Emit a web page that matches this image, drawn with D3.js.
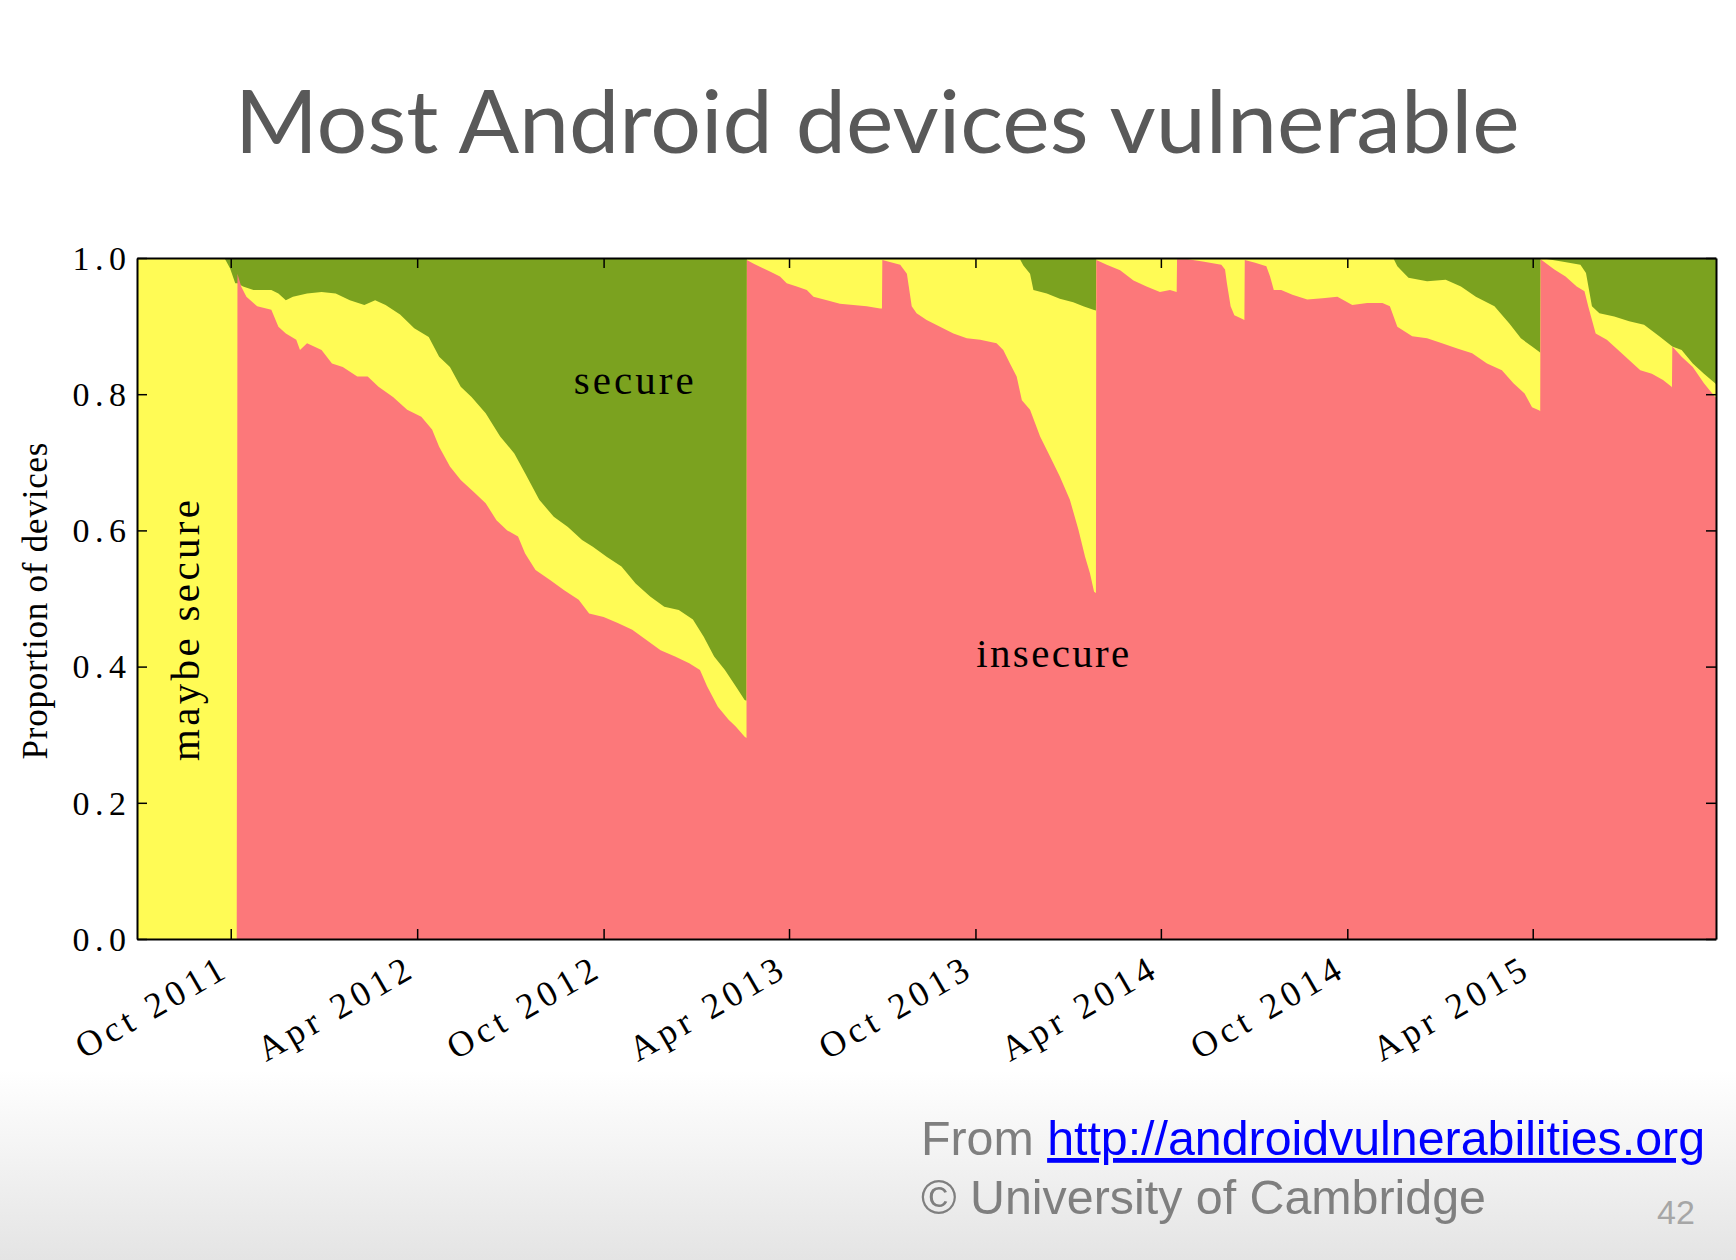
<!DOCTYPE html>
<html><head><meta charset="utf-8">
<script src="https://cdn.jsdelivr.net/npm/d3@7"></script>
<style>html,body{margin:0;padding:0;background:#fff;}svg{display:block}</style>
</head><body>
<svg id="chart" width="1736" height="1260"></svg>
<script>
// ---------- DATA ----------
// time is given as decimal years (2011.5 = 1 Jul 2011, 365.25 days per year)
const xTickLabels = ["Oct 2011","Apr 2012","Oct 2012","Apr 2013","Oct 2013","Apr 2014","Oct 2014","Apr 2015"];
const xTickDates  = ["2011-10-01","2012-04-01","2012-10-01","2013-04-01","2013-10-01","2014-04-01","2014-10-01","2015-04-01"];
const yTicks = [0.0, 0.2, 0.4, 0.6, 0.8, 1.0];
const timeRange = [2011.5, 2015.7434];

// proportion of devices that are insecure (bottom layer)
const insecure = [
[2011.500,0],[2011.768,0],
[2011.770,0.977],[2011.780,0.958],[2011.794,0.943],[2011.823,0.929],[2011.861,0.924],[2011.880,0.899],[2011.900,0.889],[2011.928,0.880],[2011.938,0.865],[2011.957,0.875],[2011.996,0.865],[2012.024,0.845],[2012.053,0.840],[2012.092,0.826],[2012.120,0.826],[2012.149,0.811],[2012.188,0.796],[2012.226,0.777],[2012.264,0.767],[2012.293,0.748],[2012.312,0.723],[2012.341,0.694],[2012.370,0.674],[2012.408,0.655],[2012.437,0.640],[2012.466,0.615],[2012.495,0.600],[2012.524,0.591],[2012.543,0.566],[2012.571,0.542],[2012.610,0.527],[2012.648,0.512],[2012.687,0.498],[2012.715,0.478],[2012.754,0.473],[2012.792,0.464],[2012.831,0.454],[2012.869,0.439],[2012.907,0.424],[2012.946,0.415],[2012.984,0.405],[2013.013,0.395],[2013.032,0.371],[2013.061,0.341],[2013.090,0.322],[2013.109,0.312],[2013.133,0.297],[2013.138,0.295],
[2013.139,0.997],[2013.156,0.992],[2013.174,0.987],[2013.201,0.980],[2013.228,0.973],[2013.246,0.963],[2013.273,0.958],[2013.300,0.953],[2013.318,0.943],[2013.354,0.938],[2013.389,0.933],[2013.425,0.931],[2013.461,0.929],[2013.497,0.926],[2013.502,0.926],
[2013.503,0.997],[2013.551,0.990],[2013.569,0.977],[2013.582,0.929],[2013.595,0.919],[2013.622,0.909],[2013.658,0.899],[2013.694,0.889],[2013.730,0.882],[2013.766,0.880],[2013.810,0.875],[2013.828,0.865],[2013.846,0.845],[2013.864,0.826],[2013.878,0.791],[2013.900,0.777],[2013.927,0.738],[2013.954,0.708],[2013.980,0.679],[2014.007,0.645],[2014.030,0.601],[2014.048,0.561],[2014.061,0.537],[2014.072,0.510],[2014.077,0.508],
[2014.078,0.997],[2014.106,0.990],[2014.142,0.982],[2014.178,0.967],[2014.213,0.958],[2014.249,0.950],[2014.276,0.953],[2014.294,0.950],
[2014.295,0.998],[2014.324,0.998],[2014.364,0.995],[2014.414,0.990],[2014.424,0.983],[2014.429,0.963],[2014.439,0.929],[2014.449,0.916],[2014.465,0.912],[2014.476,0.909],
[2014.477,0.997],[2014.505,0.993],[2014.535,0.988],[2014.545,0.973],[2014.555,0.953],[2014.575,0.953],[2014.605,0.946],[2014.645,0.939],[2014.686,0.941],[2014.726,0.943],[2014.766,0.931],[2014.806,0.934],[2014.847,0.934],[2014.867,0.929],[2014.887,0.899],[2014.927,0.885],[2014.967,0.882],[2015.007,0.875],[2015.048,0.867],[2015.088,0.860],[2015.128,0.845],[2015.168,0.835],[2015.199,0.816],[2015.229,0.801],[2015.249,0.781],[2015.269,0.776],[2015.271,0.775],
[2015.272,0.998],[2015.309,0.983],[2015.339,0.973],[2015.369,0.958],[2015.390,0.951],[2015.400,0.929],[2015.420,0.889],[2015.450,0.880],[2015.490,0.860],[2015.520,0.845],[2015.540,0.835],[2015.571,0.830],[2015.601,0.821],[2015.624,0.811],[2015.625,0.810],
[2015.626,0.870],[2015.651,0.855],[2015.681,0.840],[2015.711,0.816],[2015.741,0.796],[2015.744,0.795]
];

// proportion of devices that are secure (top layer); the rest is "maybe secure"
const secure = [
[2011.500,0],[2011.735,0],[2011.750,0.015],[2011.764,0.037],[2011.770,0.037],[2011.785,0.042],[2011.813,0.047],[2011.861,0.047],[2011.880,0.052],[2011.900,0.062],[2011.919,0.057],[2011.957,0.052],[2011.996,0.050],[2012.034,0.052],[2012.072,0.062],[2012.111,0.069],[2012.140,0.062],[2012.168,0.069],[2012.207,0.083],[2012.245,0.103],[2012.284,0.116],[2012.312,0.145],[2012.341,0.160],[2012.370,0.189],[2012.399,0.204],[2012.437,0.228],[2012.476,0.262],[2012.514,0.287],[2012.543,0.316],[2012.581,0.355],[2012.620,0.380],[2012.658,0.395],[2012.696,0.414],[2012.725,0.424],[2012.763,0.439],[2012.802,0.453],[2012.840,0.478],[2012.879,0.497],[2012.917,0.512],[2012.956,0.517],[2012.994,0.531],[2013.023,0.556],[2013.051,0.585],[2013.080,0.605],[2013.109,0.629],[2013.133,0.649],[2013.138,0.650],
[2013.139,0],[2013.873,0.002],[2013.882,0.011],[2013.900,0.023],[2013.909,0.047],[2013.945,0.052],[2013.980,0.060],[2014.016,0.065],[2014.043,0.071],[2014.070,0.076],[2014.077,0.077],
[2014.078,0],[2014.877,0.001],[2014.887,0.012],[2014.917,0.029],[2014.967,0.034],[2015.017,0.032],[2015.058,0.042],[2015.098,0.057],[2015.148,0.071],[2015.188,0.096],[2015.219,0.118],[2015.249,0.130],[2015.269,0.138],[2015.271,0.139],
[2015.272,0],[2015.329,0.005],[2015.379,0.010],[2015.394,0.022],[2015.410,0.071],[2015.430,0.081],[2015.470,0.086],[2015.510,0.093],[2015.550,0.098],[2015.591,0.115],[2015.626,0.130],[2015.651,0.135],[2015.681,0.155],[2015.711,0.170],[2015.741,0.184],[2015.744,0.186]
];

const regionLabels = ["secure", "insecure", "maybe secure"];
const regionLabelAt = [[2012.835, 0.801], [2013.961, 0.400], [2011.666, 0.453]];

// ---------- LAYOUT / STYLE ----------
const M = {left:137, top:258}, W = 1579, H = 681;
const COL = {insecure:"#fc787a", maybe:"#fffb55", secure:"#7ba21f"};
const SERIF = "'Liberation Serif','Times New Roman',serif";
const SANS = "'Liberation Sans',Arial,sans-serif";

const toDate = t => new Date(Date.UTC(2011,6,1) + (t-2011.5)*365.25*86400000);

const svg = d3.select("#chart");
const defs = svg.append("defs");
const grad = defs.append("linearGradient").attr("id","bg").attr("x1",0).attr("y1",0).attr("x2",0).attr("y2",1);
grad.append("stop").attr("offset","0%").attr("stop-color","#ffffff");
grad.append("stop").attr("offset","100%").attr("stop-color","#e4e4e4");
svg.append("rect").attr("width",1736).attr("height",1260).attr("fill","#fff");
svg.append("rect").attr("y",1070).attr("width",1736).attr("height",190).attr("fill","url(#bg)");

// title
svg.append("text").attr("x",234.7).attr("y",153).attr("textLength",1285).attr("lengthAdjust","spacingAndGlyphs")
  .attr("font-family","Lato,'Open Sans',sans-serif").attr("font-size",88).attr("fill","#595959")
  .text("Most Android devices vulnerable");

const x = d3.scaleUtc().domain(timeRange.map(toDate)).range([0,W]);
const y = d3.scaleLinear().domain([0,1]).range([H,0]);

const g = svg.append("g").attr("transform",`translate(${M.left},${M.top})`);

// maybe secure = background of plot
g.append("rect").attr("width",W).attr("height",H).attr("fill",COL.maybe);
// secure from the top
g.append("path").datum(secure).attr("fill",COL.secure)
  .attr("d", d3.area().x(d=>x(toDate(d[0]))).y0(y(1)).y1(d=>y(1-d[1])));
// insecure from the bottom
g.append("path").datum(insecure).attr("fill",COL.insecure)
  .attr("d", d3.area().x(d=>x(toDate(d[0]))).y0(y(0)).y1(d=>y(d[1])));

// region labels
const lab = g.append("g").attr("font-family",SERIF).attr("font-size",41).attr("fill","#000");
lab.append("text").attr("x",x(toDate(regionLabelAt[0][0]))).attr("y",y(regionLabelAt[0][1]))
  .attr("text-anchor","middle").attr("textLength",120).attr("lengthAdjust","spacing").text(regionLabels[0]);
lab.append("text").attr("x",x(toDate(regionLabelAt[1][0]))).attr("y",y(regionLabelAt[1][1]))
  .attr("text-anchor","middle").attr("textLength",153).attr("lengthAdjust","spacing").text(regionLabels[1]);
lab.append("text").attr("transform",`translate(${x(toDate(regionLabelAt[2][0]))},${y(regionLabelAt[2][1])}) rotate(-90)`)
  .attr("text-anchor","middle").attr("textLength",261).attr("lengthAdjust","spacing").text(regionLabels[2]);

// axes
const tickDates = xTickDates.map(s=>new Date(s+"T00:00:00Z"));
const XLS = 4.8, YLS = 5.5;
const axB = g.append("g").attr("transform",`translate(0,${H})`)
  .call(d3.axisBottom(x).tickValues(tickDates).tickSize(-10).tickSizeOuter(0).tickFormat((d,i)=>xTickLabels[i]));
axB.selectAll(".tick text").attr("y",null).attr("dy",null).attr("x",XLS)
  .attr("transform","translate(-4,38) rotate(-30)").attr("text-anchor","end")
  .attr("font-family",SERIF).attr("font-size",36).attr("letter-spacing",XLS).attr("fill","#000");
g.append("g").call(d3.axisTop(x).tickValues(tickDates).tickSize(-10).tickSizeOuter(0).tickFormat(""));
const axL = g.append("g").call(d3.axisLeft(y).tickValues(yTicks).tickSize(-10).tickSizeOuter(0).tickFormat(d3.format(".1f")));
axL.selectAll(".tick text").attr("x",-11+YLS).attr("dy","0.33em")
  .attr("font-family",SERIF).attr("font-size",34).attr("letter-spacing",YLS).attr("fill","#000");
g.append("g").attr("transform",`translate(${W},0)`).call(d3.axisRight(y).tickValues(yTicks).tickSize(-10).tickSizeOuter(0).tickFormat(""));
g.selectAll(".domain").attr("stroke","#000").attr("stroke-width",2);
g.selectAll(".tick line").attr("stroke","#000").attr("stroke-width",1.5);

// y axis title
svg.append("text").attr("transform","translate(47,601) rotate(-90)").attr("text-anchor","middle")
  .attr("font-family",SERIF).attr("font-size",35).attr("textLength",317).attr("lengthAdjust","spacing")
  .text("Proportion of devices");

// footer
const f = svg.append("text").attr("x",921).attr("y",1155).attr("font-family",SANS).attr("font-size",48)
  .attr("fill","#7f7f7f").attr("textLength",784).attr("lengthAdjust","spacingAndGlyphs");
f.append("tspan").text("From ");
f.append("tspan").attr("fill","#0000ff").attr("text-decoration","underline").text("http://androidvulnerabilities.org");
svg.append("text").attr("x",921).attr("y",1214).attr("font-family",SANS).attr("font-size",48)
  .attr("fill","#7f7f7f").attr("textLength",565).attr("lengthAdjust","spacingAndGlyphs").text("© University of Cambridge");
svg.append("text").attr("x",1657).attr("y",1224).attr("font-family",SANS).attr("font-size",34)
  .attr("fill","#a6a6a6").text("42");
</script>
</body></html>
